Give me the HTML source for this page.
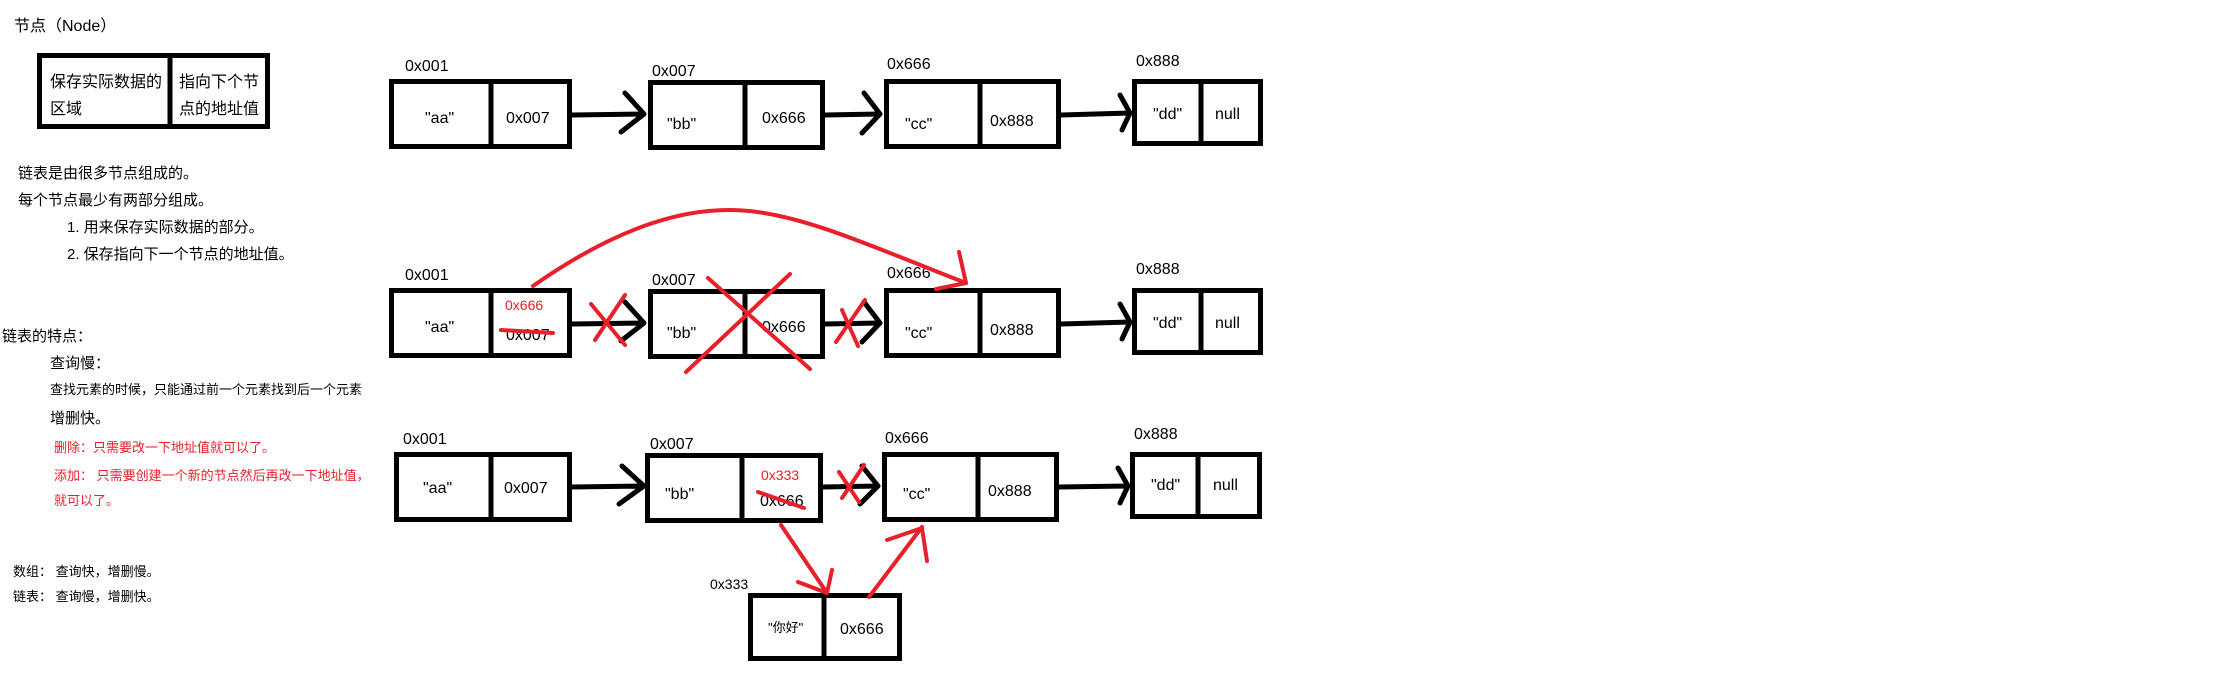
<!DOCTYPE html>
<html><head><meta charset="utf-8"><style>
html,body{margin:0;padding:0;background:#fff;}
svg{display:block;}
text{font-family:"Liberation Sans","Noto Sans CJK SC",sans-serif;}
.l{font-size:16px;fill:#000;}
.m{font-size:15px;}
.n{font-size:16px;}
.s{font-size:13px;}
.r{fill:#e8202a;}
</style></head><body>
<svg width="2220" height="683" xmlns="http://www.w3.org/2000/svg">
<g fill="none" stroke="#000" stroke-width="5">
<rect x="39.5" y="55.5" width="228" height="71"/>
<line x1="170" y1="55" x2="170" y2="128"/>
</g>
<text x="14" y="31" class="n">节点（Node）</text>
<text x="50" y="87" class="n">保存实际数据的</text>
<text x="50" y="114" class="n">区域</text>
<text x="179" y="87" class="n">指向下个节</text>
<text x="179" y="114" class="n">点的地址值</text>
<text x="18" y="178" class="m">链表是由很多节点组成的。</text>
<text x="18" y="205" class="m">每个节点最少有两部分组成。</text>
<text x="67" y="232" class="m">1. 用来保存实际数据的部分。</text>
<text x="67" y="259" class="m">2. 保存指向下一个节点的地址值。</text>
<text x="2" y="341" class="m">链表的特点：</text>
<text x="50" y="368" class="m">查询慢：</text>
<text x="50" y="394" class="s" textLength="312">查找元素的时候，只能通过前一个元素找到后一个元素</text>
<text x="50" y="423" class="m">增删快。</text>
<text x="54" y="452" class="s r">删除：只需要改一下地址值就可以了。</text>
<text x="54" y="480" class="s r">添加： 只需要创建一个新的节点然后再改一下地址值，</text>
<text x="54" y="505" class="s r">就可以了。</text>
<text x="13" y="576" class="s">数组： 查询快，增删慢。</text>
<text x="13" y="601" class="s">链表： 查询慢，增删快。</text>

<g fill="none" stroke="#000" stroke-width="5">
<rect x="391.5" y="81.5" width="178" height="65"/><line x1="491" y1="80" x2="491" y2="148"/>
<rect x="650.5" y="82.5" width="172" height="65"/><line x1="745" y1="81" x2="745" y2="149"/>
<rect x="886.5" y="81.5" width="172" height="65"/><line x1="980" y1="80" x2="980" y2="148"/>
<rect x="1134.5" y="81.5" width="126" height="62"/><line x1="1201" y1="80" x2="1201" y2="145"/>
<rect x="391.5" y="290.5" width="178" height="65"/><line x1="491" y1="289" x2="491" y2="357"/>
<rect x="650.5" y="291.5" width="172" height="65"/><line x1="745" y1="290" x2="745" y2="358"/>
<rect x="886.5" y="290.5" width="172" height="65"/><line x1="980" y1="289" x2="980" y2="357"/>
<rect x="1134.5" y="290.5" width="126" height="62"/><line x1="1201" y1="289" x2="1201" y2="354"/>
<rect x="396.5" y="454.5" width="173" height="65"/><line x1="491" y1="453" x2="491" y2="521"/>
<rect x="647.5" y="455.5" width="173" height="65"/><line x1="742" y1="454" x2="742" y2="522"/>
<rect x="884.5" y="454.5" width="172" height="65"/><line x1="978" y1="453" x2="978" y2="521"/>
<rect x="1132.5" y="454.5" width="127" height="62"/><line x1="1198" y1="453" x2="1198" y2="518"/>
<rect x="750.5" y="595.5" width="149" height="63"/><line x1="824" y1="594" x2="824" y2="660"/>
</g>
<g fill="none" stroke="#000" stroke-width="5" stroke-linecap="round" stroke-linejoin="round">
<path d="M572 115 L644 114 M625 93 L644 114 L621 132"/>
<path d="M825 115 L880 114 M864 93 L880 114 L862 133"/>
<path d="M1061 115 L1130 113 M1120 95 L1130 113 L1122 130"/>
<path d="M572 324 L644 323 M625 302 L644 323 L621 341"/>
<path d="M825 324 L880 323 M864 302 L880 323 L862 342"/>
<path d="M1061 324 L1130 322 M1120 304 L1130 322 L1122 339"/>
<path d="M572 487 L644 486 M622 466 L644 486 L619 504"/>
<path d="M823 487 L878 486 M862 466 L878 486 L860 504"/>
<path d="M1059 487 L1128 486 M1118 468 L1128 486 L1120 503"/>
</g>
<g class="l">
<text x="405" y="71">0x001</text><text x="652" y="76">0x007</text><text x="887" y="69">0x666</text><text x="1136" y="66">0x888</text>
<text x="425" y="123">"aa"</text><text x="506" y="123">0x007</text><text x="667" y="129">"bb"</text><text x="762" y="123">0x666</text>
<text x="905" y="129">"cc"</text><text x="990" y="126">0x888</text><text x="1153" y="119">"dd"</text><text x="1215" y="119">null</text>
<text x="405" y="280">0x001</text><text x="652" y="285">0x007</text><text x="887" y="278">0x666</text><text x="1136" y="274">0x888</text>
<text x="425" y="332">"aa"</text><text x="506" y="340">0x007</text><text x="667" y="338">"bb"</text><text x="762" y="332">0x666</text>
<text x="905" y="338">"cc"</text><text x="990" y="335">0x888</text><text x="1153" y="328">"dd"</text><text x="1215" y="328">null</text>
<text x="403" y="444">0x001</text><text x="650" y="449">0x007</text><text x="885" y="443">0x666</text><text x="1134" y="439">0x888</text>
<text x="423" y="493">"aa"</text><text x="504" y="493">0x007</text><text x="665" y="499">"bb"</text><text x="760" y="506">0x666</text>
<text x="903" y="499">"cc"</text><text x="988" y="496">0x888</text><text x="1151" y="490">"dd"</text><text x="1213" y="490">null</text>
<text x="710" y="589" style="font-size:14px">0x333</text>
<text x="768" y="632" style="font-size:13px">"你好"</text>
<text x="840" y="634">0x666</text>
</g>
<text x="505" y="310" style="font-size:14px" class="r">0x666</text>
<text x="761" y="480" style="font-size:14px" class="r">0x333</text>
<g fill="none" stroke="#e8202a" stroke-width="4" stroke-linecap="round" stroke-linejoin="round">
<path d="M533 286 C620 225 690 205 749 211 C810 217 880 250 966 283"/>
<path d="M959 252 L966 283 L936 289"/>
<path d="M501 330 L553 333"/>
<path d="M591 304 L625 345 M625 295 L595 340"/>
<path d="M708 278 L810 369 M790 274 L686 372"/>
<path d="M842 310 L858 346 M865 300 L836 342"/>
<path d="M758 492 L804 508"/>
<path d="M839 472 L859 502 M864 465 L842 498"/>
<path d="M781 525 L827 593 M798 582 L827 593 L832 570"/>
<path d="M869 597 L922 527 M887 540 L922 528 L927 561"/>
</g>
</svg>
</body></html>
